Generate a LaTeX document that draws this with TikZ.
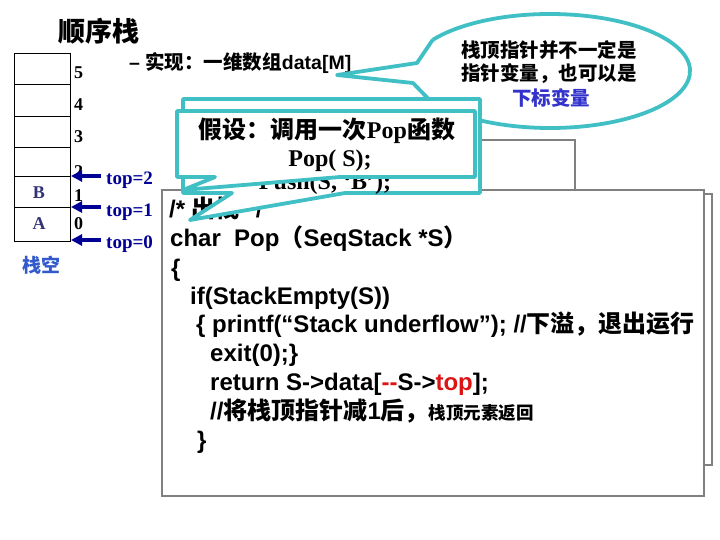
\documentclass[tikz,border=0pt]{standalone}
\usepackage{fontspec}
\setmainfont{Liberation Serif}
\newfontfamily\ar{Liberation Sans}
\newfontfamily\cjk{Noto Sans CJK SC}
\usetikzlibrary{arrows.meta}
\definecolor{cyanline}{RGB}{64,192,196}
\definecolor{boxgray}{RGB}{128,128,128}
\definecolor{navy}{RGB}{0,0,150}
\definecolor{slate}{RGB}{51,51,120}
\definecolor{emptyblue}{RGB}{51,90,204}
\definecolor{subblue}{RGB}{51,51,204}
\definecolor{codered}{RGB}{220,20,20}
\newcommand\cj[1]{{\cjk\bfseries #1}}
\begin{document}
\begin{tikzpicture}[x=1pt,y=-1pt,
  cellline/.style={draw=black,line width=0.9pt},
  idx/.style={inner sep=0pt,font=\bfseries\fontsize{18}{20}\selectfont},
  elem/.style={inner sep=0pt,text=slate,font=\bfseries\fontsize{18}{20}\selectfont},
  ptr/.style={draw=navy,line width=3.6pt,-{Triangle[length=11pt,width=11pt]}},
  toplab/.style={inner sep=0pt,anchor=base west,text=navy,font=\bfseries\fontsize{19}{21}\selectfont},
  code/.style={inner sep=0pt,anchor=base west,font=\ar\bfseries\fontsize{24}{26}\selectfont},
  graybox/.style={draw=boxgray,line width=2.6pt,fill=white},
  callout/.style={draw=cyanline,line width=3.8pt,fill=white,line join=round},
  cyanstroke/.style={draw=cyanline,line width=3.8pt,line join=round},
  ctext/.style={inner sep=0pt,font=\bfseries\fontsize{24}{28}\selectfont},
  etext/.style={inner sep=0pt,font=\cjk\bfseries\fontsize{19.5}{22}\selectfont}]
\useasboundingbox[fill=white] (0,0) rectangle (720,540);

% title
\node[inner sep=0pt,font=\cjk\bfseries\fontsize{27}{30}\selectfont] (title) at (99,31) {顺序栈};

% stack
\draw[cellline] (14,53) rectangle (70,241);
\foreach \yy in {84,116,147,176,207} \draw[cellline] (14,\yy) -- (70,\yy);
\node[idx,anchor=west] (i5) at (74,73) {5};
\node[idx,anchor=west] (i4) at (74,105) {4};
\node[idx,anchor=west] (i3) at (74,137) {3};
\node[idx,anchor=west] (i2) at (74,172) {2};
\node[idx,anchor=west] (i1) at (74,196) {1};
\node[idx,anchor=west] (i0) at (74,224) {0};
\node[elem] (eB) at (39,193) {B};
\node[elem] (eA) at (39,224) {A};
\node[inner sep=0pt,text=emptyblue,font=\cjk\bfseries\fontsize{19}{21}\selectfont] (empty) at (42,265) {栈空};

% pointers
\coordinate (p2s) at (101,176); \coordinate (p2e) at (71,176);
\coordinate (p1s) at (101,207); \coordinate (p1e) at (71,207);
\coordinate (p0s) at (101,240); \coordinate (p0e) at (71,240);
\draw[ptr] (p2s) -- (p2e);
\draw[ptr] (p1s) -- (p1e);
\draw[ptr] (p0s) -- (p0e);
\node[toplab] (t2) at (106,185) {top=2};
\node[toplab] (t1) at (106,216) {top=1};
\node[toplab] (t0) at (106,248) {top=0};

% subtitle
\node[inner sep=0pt,anchor=base west,font=\ar\bfseries\fontsize{19.5}{22}\selectfont] (impl) at (129,70) {– \cj{实现：一维数组}data[M]};

% gray boxes
\draw[graybox] (190,140) rectangle (575,200);
\draw[graybox] (175,194) rectangle (712,465);
\draw[graybox] (162,190) rectangle (704,496);

% code
\node[code] (c0) at (169,218) {/* \cj{出栈} */};
\node[code] (c1) at (170,247) {char\ \ Pop\cj{（}SeqStack *S\cj{）}};
\node[code] (c2) at (171,276) {\{};
\node[code] (c3) at (190,304) {if(StackEmpty(S))};
\node[code] (c4) at (196,332) {\{ printf(“Stack underflow”); //\cj{下溢，退出运行}};
\node[code] (c5) at (210,361) {exit(0);\}};
\node[code] (c6) at (210,390) {return S->data[{\color{codered}-{}-}S->{\color{codered}top}];};
\node[code] (c7) at (210,419) {//\cj{将栈顶指针减}1\cj{后，}{\fontsize{17.5}{20}\selectfont\cj{栈顶元素返回}}};
\node[code] (c8) at (197,448) {\}};

% ellipse callout
\coordinate (E) at (550,71);
\coordinate (eb1) at ([shift={(147:140pt and 57pt)}]E);
\coordinate (eb2) at ([shift={(210.6:140pt and 57pt)}]E);
\coordinate (ek1) at (417,63);
\coordinate (etip) at (337,75);
\coordinate (ek2) at (413,83);
\fill[white] (eb1) -- (ek1) -- (etip) -- (ek2) -- (eb2) -- cycle;
\fill[white] (E) ellipse[x radius=140pt, y radius=57pt];
\draw[cyanstroke] (eb2) arc[start angle=210.6, end angle=507, x radius=140pt, y radius=57pt];
\draw[cyanstroke] (eb1) -- (ek1) -- (etip) -- (ek2) -- (eb2);
\node[etext] (el1) at (549,50) {栈顶指针并不一定是};
\node[etext] (el2) at (549,74) {指针变量，也可以是};
\node[etext,text=subblue] (el3) at (551,98) {下标变量};

% rear callout
\draw[callout] (183,99) -- (480,99) -- (480,193) -- (345,193) -- (190,220) -- (232,193) -- (183,193) -- cycle;
\node[ctext,anchor=base] (rear) at (325,190) {Push(S, ‘B’);};

% front callout
\draw[callout] (177,111) -- (475,111) -- (475,177) -- (340,177) -- (183,190) -- (215,177) -- (177,177) -- cycle;
\node[ctext,anchor=base] (f1) at (327,139) {\cj{假设：调用一次}Pop\cj{函数}};
\node[ctext,anchor=base] (f2) at (330,167) {Pop( S);};
\end{tikzpicture}
\end{document}
